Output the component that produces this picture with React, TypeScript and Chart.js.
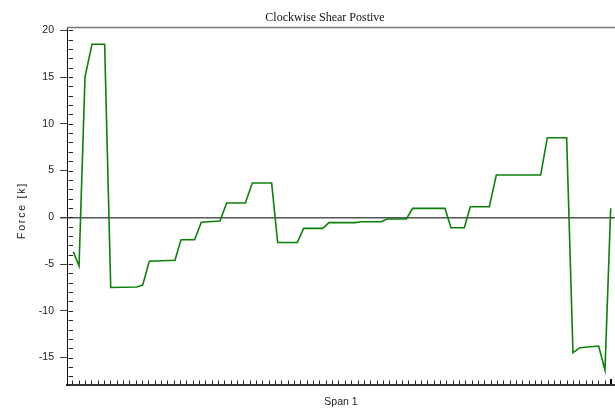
import React, { useEffect, useRef } from "react";
import { Chart, registerables } from "chart.js";

Chart.register(...registerables);

const chartTitle = "Clockwise Shear Postive";
const xAxisTitle = "Span 1";
const yAxisTitle = "Force [k]";

// positions along the span (axis units, one tick = one unit)
const spanX = [
  0.16, 1.06, 2.0, 3.1, 5.1, 6.06, 10.16, 11.1, 12.15, 16.2, 17.15, 19.3, 20.35,
  23.3, 24.35, 27.3, 28.4, 31.45, 32.4, 35.5, 36.5, 39.5, 40.5, 44.6, 45.6, 48.7,
  49.7, 52.7, 53.7, 58.8, 59.75, 61.85, 62.8, 65.8, 66.9, 73.9, 74.95, 78.0, 79.0,
  80.1, 83.05, 84.05, 84.95,
];
// shear force [k]
const shearForce = [
  -3.7, -5.2, 15.0, 18.5, 18.5, -7.5, -7.45, -7.25, -4.7, -4.6, -2.4, -2.4, -0.53,
  -0.4, 1.53, 1.53, 3.67, 3.67, -2.7, -2.7, -1.18, -1.18, -0.57, -0.57, -0.47, -0.47,
  -0.18, -0.18, 0.96, 0.96, -1.11, -1.11, 1.13, 1.13, 4.52, 4.52, 8.51, 8.51, -14.48,
  -13.94, -13.76, -16.33, 0.96,
];

const yMajorTicks = [-15, -10, -5, 0, 5, 10, 15, 20];
const yMinorTicks = [
  -17, -16, -15, -14, -13, -12, -11, -10, -9, -8, -7, -6, -5, -4, -3, -2, -1, 0, 1, 2,
  3, 4, 5, 6, 7, 8, 9, 10, 11, 12, 13, 14, 15, 16, 17, 18, 19, 20,
];
const xTickValues = Array.from({ length: 86 }, (_, i) => i);

const Y_MIN = -17.93;
const Y_MAX = 20.35;
const X_MIN = -0.84;
const X_MAX = 85.63;

const decorPlugin = {
  id: "decor",
  afterDraw(chart: any) {
    const { ctx, chartArea } = chart;
    const xs = chart.scales.x;
    const ys = chart.scales.y;
    const { left, right, top, bottom } = chartArea;
    ctx.save();
    // top frame line
    ctx.strokeStyle = "#7a7a7a";
    ctx.lineWidth = 1.5;
    ctx.beginPath();
    ctx.moveTo(left, top + 0.5);
    ctx.lineTo(right, top + 0.5);
    ctx.stroke();
    // inner y minor ticks
    ctx.strokeStyle = "#222";
    ctx.lineWidth = 1;
    ctx.beginPath();
    for (const v of yMinorTicks) {
      const y = Math.round(ys.getPixelForValue(v)) + 0.5;
      ctx.moveTo(left + 1.5, y);
      ctx.lineTo(left + 6, y);
    }
    ctx.stroke();
    // x ticks pointing up
    ctx.beginPath();
    for (const v of xTickValues) {
      if (v === xTickValues[xTickValues.length - 1]) continue;
      const x = Math.round(xs.getPixelForValue(v)) + 0.5;
      ctx.moveTo(x, bottom - 1);
      ctx.lineTo(x, bottom - 4.5);
    }
    ctx.stroke();
    const lastX = xs.getPixelForValue(xTickValues[xTickValues.length - 1]);
    ctx.lineWidth = 2;
    ctx.strokeStyle = "#000";
    ctx.beginPath();
    ctx.moveTo(lastX, bottom - 1);
    ctx.lineTo(lastX, bottom - 6);
    ctx.stroke();
    // chart title
    ctx.fillStyle = "#111";
    ctx.font = '12px "Liberation Serif", "Times New Roman", serif';
    ctx.textAlign = "center";
    ctx.textBaseline = "alphabetic";
    ctx.fillText(chartTitle, 325, 20.5);
    // y axis title
    ctx.translate(22, 210.5);
    ctx.rotate(-Math.PI / 2);
    ctx.font = '10.5px "Liberation Sans", Arial, sans-serif';
    (ctx as any).letterSpacing = "1.8px";
    ctx.textBaseline = "middle";
    ctx.fillStyle = "#222";
    ctx.fillText(yAxisTitle, 0, 0);
    (ctx as any).letterSpacing = "0px";
    ctx.restore();
  },
};

export default function App() {
  const ref = useRef<HTMLCanvasElement | null>(null);
  useEffect(() => {
    if (!ref.current) return;
    const points = spanX.map((x, i) => ({ x, y: shearForce[i] }));
    const chart = new Chart(ref.current, {
      type: "line",
      data: {
        datasets: [
          {
            data: points,
            borderColor: "rgb(10,130,10)",
            borderWidth: 1.6,
            pointRadius: 0,
            tension: 0,
            fill: false,
          },
        ],
      },
      options: {
        animation: false,
        responsive: false,
        events: [],
        layout: { padding: { top: 27, left: 0, right: 0, bottom: 0 } },
        plugins: {
          legend: { display: false },
          title: { display: false },
          tooltip: { enabled: false },
        },
        scales: {
          x: {
            type: "linear",
            min: X_MIN,
            max: X_MAX,
            afterBuildTicks: (s: any) => {
              s.ticks = xTickValues.map((v) => ({ value: v }));
            },
            ticks: { display: false },
            grid: { display: false, drawTicks: false },
            border: { display: true, color: "#333", width: 2 },
            title: {
              display: true,
              text: xAxisTitle,
              color: "#222",
              font: { family: '"Liberation Sans", Arial, sans-serif', size: 10.5 },
              padding: { top: 0, bottom: 4 },
            },
            afterFit: (s: any) => {
              s.height = 27;
            },
          },
          y: {
            type: "linear",
            min: Y_MIN,
            max: Y_MAX,
            afterBuildTicks: (s: any) => {
              s.ticks = yMinorTicks.map((v) => ({ value: v }));
            },
            ticks: {
              autoSkip: false,
              color: "#222",
              padding: 6,
              font: { family: '"Liberation Sans", Arial, sans-serif', size: 10.5 },
              callback: (v: any) => (yMajorTicks.includes(Number(v)) ? String(v) : ""),
            },
            grid: {
              display: true,
              drawOnChartArea: true,
              drawTicks: true,
              tickLength: 7,
              color: (c: any) => (c.tick && c.tick.value === 0 ? "#555" : "rgba(0,0,0,0)"),
              lineWidth: (c: any) => (c.tick && c.tick.value === 0 ? 1.5 : 1),
              tickColor: (c: any) =>
                c.tick && yMajorTicks.includes(c.tick.value) ? "#444" : "rgba(0,0,0,0)",
            },
            border: { display: true, color: "#111", width: 1 },
            title: { display: false },
            afterFit: (s: any) => {
              s.width = 67;
            },
          },
        },
      },
      plugins: [decorPlugin],
    });
    return () => chart.destroy();
  }, []);
  return (
    <div style={{ position: "fixed", left: 0, top: 0, width: 615, height: 412, background: "#fff" }}>
      <canvas ref={ref} width={615} height={412} />
    </div>
  );
}
